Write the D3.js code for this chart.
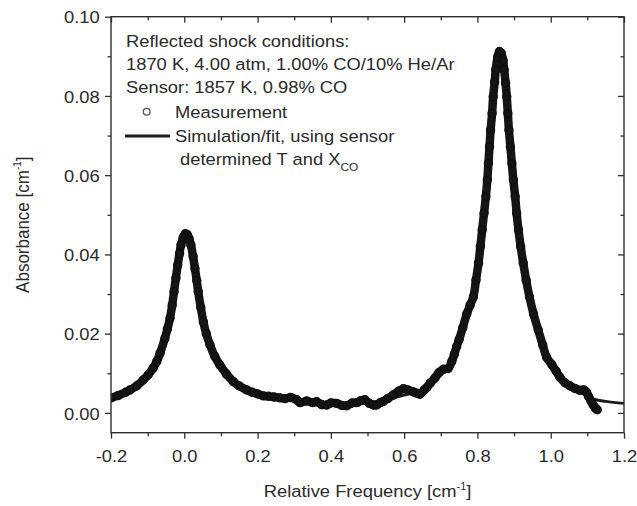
<!DOCTYPE html>
<html>
<head>
<meta charset="utf-8">
<script src="https://cdn.jsdelivr.net/npm/d3@7"></script>
<style>
  html, body { margin: 0; padding: 0; background: #fff; }
  svg { display: block; }
  text { font-family: "Liberation Sans", Arial, Helvetica, sans-serif; fill: #2a2a2a; }
</style>
</head>
<body>
<svg id="chart" width="637" height="506"></svg>
<script>
// Measured CO absorbance across the two lines (relative frequency in cm^-1)
const measFreq = [
  -0.200, -0.180, -0.160, -0.148, -0.130, -0.112, -0.098, -0.085, -0.075, -0.066,
  -0.053, -0.046, -0.039, -0.033, -0.028, -0.023, -0.018, -0.013, -0.009, -0.003,
   0.003,  0.008,  0.013,  0.018,  0.024,  0.029,  0.034,  0.038,  0.045,  0.052,
   0.060,  0.070,  0.083,  0.097,  0.115,  0.134,  0.150,  0.170,  0.185,  0.200,
   0.216,  0.230,  0.245,  0.261,  0.275,  0.290,  0.307,  0.316,  0.334,  0.350,
   0.361,  0.375,  0.389,  0.400,  0.416,  0.430,  0.443,  0.458,  0.471,  0.482,
   0.493,  0.505,  0.516,  0.525,  0.535,  0.543,  0.555,  0.570,  0.585,  0.598,
   0.610,  0.625,  0.634,  0.643,  0.655,  0.662,  0.671,  0.684,  0.695,  0.707,
   0.720,  0.730,  0.737,  0.743,  0.750,  0.760,  0.771,  0.780,  0.789,  0.796,
   0.803,  0.808,  0.813,  0.818,  0.823,  0.827,  0.830,  0.833,  0.836,  0.840,
   0.843,  0.847,  0.850,  0.855,  0.860,  0.865,  0.870,  0.873,  0.877,  0.880,
   0.883,  0.886,  0.890,  0.894,  0.898,  0.903,  0.907,  0.912,  0.918,  0.925,
   0.933,  0.942,  0.953,  0.966,  0.978,  0.989,  1.003,  1.015,  1.025,  1.039,
   1.053,  1.066,  1.080,  1.090,  1.098,  1.103,  1.110,  1.116,  1.122,  1.127
];
const measAbs = [
  0.0038, 0.0044, 0.0052, 0.0058, 0.0068, 0.0083, 0.0097, 0.0113, 0.0130, 0.0151,
  0.0188, 0.0212, 0.0239, 0.0272, 0.0306, 0.0340, 0.0373, 0.0402, 0.0424, 0.0443,
  0.0452, 0.0450, 0.0440, 0.0424, 0.0395, 0.0365, 0.0334, 0.0306, 0.0266, 0.0230,
  0.0200, 0.0172, 0.0143, 0.0121, 0.0098, 0.0079, 0.0068, 0.0058, 0.0052, 0.0048,
  0.0043, 0.0042, 0.0040, 0.0038, 0.0036, 0.0039, 0.0033, 0.0026, 0.0030, 0.0026,
  0.0028, 0.0021, 0.0020, 0.0025, 0.0024, 0.0019, 0.0018, 0.0025, 0.0026, 0.0031,
  0.0033, 0.0024, 0.0020, 0.0020, 0.0026, 0.0029, 0.0036, 0.0045, 0.0055, 0.0061,
  0.0058, 0.0053, 0.0050, 0.0047, 0.0058, 0.0064, 0.0075, 0.0088, 0.0102, 0.0110,
  0.0112, 0.0130, 0.0148, 0.0167, 0.0185, 0.0215, 0.0250, 0.0272, 0.0293, 0.0335,
  0.0378, 0.0420, 0.0462, 0.0504, 0.0546, 0.0588, 0.0630, 0.0672, 0.0714, 0.0756,
  0.0798, 0.0835, 0.0866, 0.0898, 0.0912, 0.0908, 0.0890, 0.0866, 0.0832, 0.0798,
  0.0756, 0.0714, 0.0672, 0.0630, 0.0588, 0.0546, 0.0504, 0.0462, 0.0420, 0.0378,
  0.0335, 0.0293, 0.0250, 0.0209, 0.0172, 0.0140, 0.0122, 0.0105, 0.0090, 0.0076,
  0.0068, 0.0062, 0.0057, 0.0058, 0.0052, 0.0042, 0.0030, 0.0020, 0.0012, 0.0008
];

// Simulated spectrum using the sensor-determined temperature and CO mole fraction
const simFreq = [
  -0.200, -0.150, -0.100, -0.075, -0.050, -0.030, -0.015, -0.005, 0.003, 0.012,
   0.025,  0.040,  0.055,  0.075,  0.100,  0.150,  0.200,  0.300, 0.400, 0.500,
   0.600,  0.650,  0.700,  0.730,  0.760,  0.790,  0.810,  0.830, 0.845, 0.855,
   0.861,  0.867,  0.875,  0.890,  0.910,  0.930,  0.960,  1.000, 1.050, 1.100,
   1.120,  1.150,  1.200
];
const simAbs = [
  0.0038, 0.0056, 0.0093, 0.0128, 0.0195, 0.0290, 0.0390, 0.0440, 0.0452, 0.0443,
  0.0390, 0.0298, 0.0222, 0.0162, 0.0118, 0.0068, 0.0047, 0.0030, 0.0024, 0.0026,
  0.0045, 0.0058, 0.0095, 0.0128, 0.0205, 0.0320, 0.0440, 0.0625, 0.0810, 0.0895,
  0.0912, 0.0902, 0.0850, 0.0672, 0.0480, 0.0350, 0.0225, 0.0125, 0.0075, 0.0042,
  0.0034, 0.0029, 0.0024
];

const xTicks = [-0.2, 0.0, 0.2, 0.4, 0.6, 0.8, 1.0, 1.2];
const xTickLabels = ["-0.2", "0.0", "0.2", "0.4", "0.6", "0.8", "1.0", "1.2"];
const xMinorTicks = [-0.1, 0.1, 0.3, 0.5, 0.7, 0.9, 1.1];
const yTicks = [0.00, 0.02, 0.04, 0.06, 0.08, 0.10];
const yTickLabels = ["0.00", "0.02", "0.04", "0.06", "0.08", "0.10"];
const yMinorTicks = [0.01, 0.03, 0.05, 0.07, 0.09];

const conditionLines = [
  "Reflected shock conditions:",
  "1870 K, 4.00 atm, 1.00% CO/10% He/Ar",
  "Sensor: 1857 K, 0.98% CO"
];
const legendMeasurement = "Measurement";
const legendSimulation = ["Simulation/fit, using sensor", "determined T and X", "CO"];

// ---- layout ----
const plot = { left: 111, right: 624, top: 16.7, bottom: 432.7 };
const SX = 1.08;            // slight horizontal widening of the lettering
const FS = 17;              // base font size

const svg = d3.select("#chart");
const x = d3.scaleLinear().domain([-0.2, 1.2]).range([plot.left, plot.right]);
const y = d3.scaleLinear().domain([-0.005, 0.10]).range([plot.bottom, plot.top]);

const axisColor = "#2e2e2e";

// clip region for the data
svg.append("defs").append("clipPath").attr("id", "plotClip")
  .append("rect")
  .attr("x", plot.left).attr("y", plot.top)
  .attr("width", plot.right - plot.left).attr("height", plot.bottom - plot.top);

// ---- data ----
const meas = measFreq.map((f, i) => ({ f, a: measAbs[i] }));
const sim = simFreq.map((f, i) => ({ f, a: simAbs[i] }));

const dataG = svg.append("g").attr("clip-path", "url(#plotClip)");

// simulation/fit line
dataG.append("path")
  .datum(sim)
  .attr("fill", "none")
  .attr("stroke", "#1c1c1c")
  .attr("stroke-width", 2.8)
  .attr("d", d3.line().x(d => x(d.f)).y(d => y(d.a)).curve(d3.curveMonotoneX));

// measured points: dense open circles forming a thick trace
dataG.append("path")
  .datum(meas)
  .attr("fill", "none")
  .attr("stroke", "#151515")
  .attr("stroke-width", 8.5)
  .attr("stroke-linejoin", "round")
  .attr("stroke-linecap", "round")
  .attr("d", d3.line().x(d => x(d.f)).y(d => y(d.a)).curve(d3.curveCatmullRom));

dataG.append("g").selectAll("circle")
  .data(meas)
  .join("circle")
  .attr("cx", d => x(d.f))
  .attr("cy", d => y(d.a))
  .attr("r", 3.9)
  .attr("fill", "none")
  .attr("stroke", "#101010")
  .attr("stroke-width", 1.6);

// ---- axes ----
function styleAxis(g) {
  g.select(".domain").remove();
  g.selectAll("line").attr("stroke", axisColor).attr("stroke-width", 1.3);
  g.selectAll("text").attr("font-size", FS).attr("fill", "#2a2a2a")
    .attr("font-family", '"Liberation Sans", Arial, sans-serif');
}

// bottom: major + minor, outward
const bottomMajor = svg.append("g").attr("transform", `translate(0,${plot.bottom})`)
  .call(d3.axisBottom(x).tickValues(xTicks).tickSize(6).tickFormat((d, i) => xTickLabels[i]));
styleAxis(bottomMajor);
bottomMajor.selectAll("text").attr("y", 29).attr("dy", null)
  .attr("transform", `scale(${SX},1)`);
const bottomMinor = svg.append("g").attr("transform", `translate(0,${plot.bottom})`)
  .call(d3.axisBottom(x).tickValues(xMinorTicks).tickSize(3.5).tickFormat(""));
styleAxis(bottomMinor);

// top: inward ticks
const topMajor = svg.append("g").attr("transform", `translate(0,${plot.top})`)
  .call(d3.axisTop(x).tickValues(xTicks).tickSize(-6).tickFormat(""));
styleAxis(topMajor);
const topMinor = svg.append("g").attr("transform", `translate(0,${plot.top})`)
  .call(d3.axisTop(x).tickValues(xMinorTicks).tickSize(-3.5).tickFormat(""));
styleAxis(topMinor);

// left: outward ticks with labels
const leftMajor = svg.append("g").attr("transform", `translate(${plot.left},0)`)
  .call(d3.axisLeft(y).tickValues(yTicks).tickSize(6).tickFormat((d, i) => yTickLabels[i]));
styleAxis(leftMajor);
leftMajor.selectAll("text").attr("x", -10.5).attr("dy", "0.36em")
  .attr("transform", `scale(${SX},1)`);
const leftMinor = svg.append("g").attr("transform", `translate(${plot.left},0)`)
  .call(d3.axisLeft(y).tickValues(yMinorTicks).tickSize(3.5).tickFormat(""));
styleAxis(leftMinor);

// right: inward ticks
const rightMajor = svg.append("g").attr("transform", `translate(${plot.right},0)`)
  .call(d3.axisRight(y).tickValues(yTicks).tickSize(-6).tickFormat(""));
styleAxis(rightMajor);
const rightMinor = svg.append("g").attr("transform", `translate(${plot.right},0)`)
  .call(d3.axisRight(y).tickValues(yMinorTicks).tickSize(-3.5).tickFormat(""));
styleAxis(rightMinor);

// frame
svg.append("rect")
  .attr("x", plot.left).attr("y", plot.top)
  .attr("width", plot.right - plot.left).attr("height", plot.bottom - plot.top)
  .attr("fill", "none").attr("stroke", axisColor).attr("stroke-width", 1.4);

// ---- text helpers ----
function label(px, py, anchor, size) {
  return svg.append("text")
    .attr("transform", `translate(${px},${py}) scale(${SX},1)`)
    .attr("text-anchor", anchor || "start")
    .attr("font-size", size || FS);
}

// axis titles
const xt = label((plot.left + plot.right) / 2, 497, "middle");
xt.append("tspan").text("Relative Frequency [cm");
xt.append("tspan").attr("font-size", 10).attr("dy", -7).text("-1");
xt.append("tspan").attr("dy", 7).text("]");

const yt = svg.append("text")
  .attr("transform", `translate(29,${(plot.top + plot.bottom) / 2}) rotate(-90) scale(1,${SX})`)
  .attr("text-anchor", "middle")
  .attr("font-size", FS);
yt.append("tspan").text("Absorbance [cm");
yt.append("tspan").attr("font-size", 10).attr("dy", -7).text("-1");
yt.append("tspan").attr("dy", 7).text("]");

// conditions block
const lineYs = [46.7, 70, 93.3];
conditionLines.forEach((s, i) => label(126, lineYs[i], "start").text(s));

// legend
svg.append("circle")
  .attr("cx", 146.7).attr("cy", 111.8).attr("r", 3.4)
  .attr("fill", "none").attr("stroke", "#555").attr("stroke-width", 1.3);
label(175, 118.3, "start").text(legendMeasurement);

svg.append("line")
  .attr("x1", 125).attr("x2", 170).attr("y1", 136).attr("y2", 136)
  .attr("stroke", "#1c1c1c").attr("stroke-width", 3);
label(175, 141.7, "start").text(legendSimulation[0]);
const det = label(180, 165, "start");
det.append("tspan").text(legendSimulation[1]);
det.append("tspan").attr("font-size", 11).attr("dy", 6).text(legendSimulation[2]);
</script>
</body>
</html>
